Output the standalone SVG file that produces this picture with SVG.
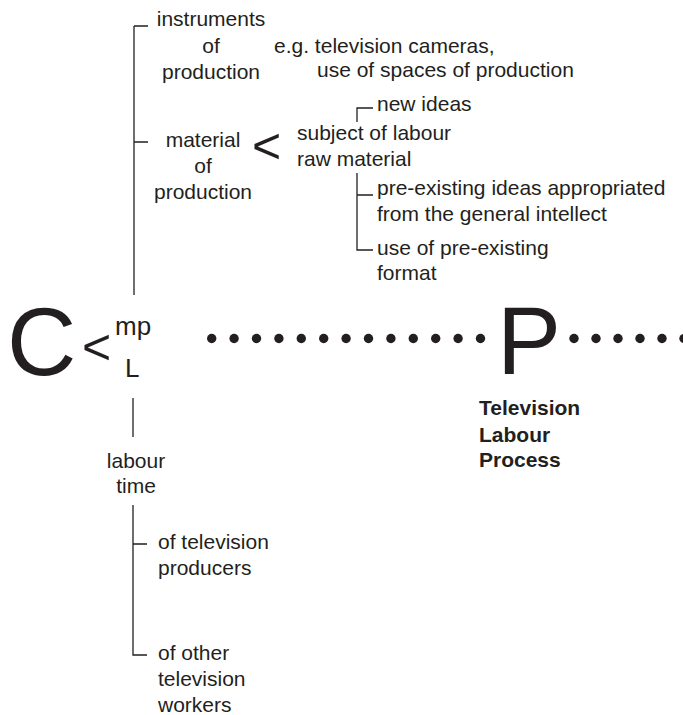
<svg xmlns="http://www.w3.org/2000/svg" width="683" height="715" viewBox="0 0 683 715">
<style>
text{font-family:"Liberation Sans",Arial,Helvetica,sans-serif;font-size:21px;fill:#231f20}
.c{text-anchor:middle}
.b{font-weight:bold}
.big{font-size:96px}
.ln{stroke:#231f20;stroke-width:1.3;fill:none}
.dot{fill:#231f20}
</style>
<rect width="683" height="715" fill="#fff"/>
<g id="connectors">
<path class="ln" d="M134,26H148M134,26V295M134,142H148"/>
<path class="ln" d="M357,122V108H373"/>
<path class="ln" d="M357,173V250H373M357,195H373"/>
<path class="ln" d="M133,398V437"/>
<path class="ln" d="M133,505V655H147M133,544H147"/>
</g>
<g id="dots">
<circle class="dot" cx="211.7" cy="338.5" r="4.7"/>
<circle class="dot" cx="234.1" cy="338.5" r="4.7"/>
<circle class="dot" cx="256.5" cy="338.5" r="4.7"/>
<circle class="dot" cx="278.9" cy="338.5" r="4.7"/>
<circle class="dot" cx="301.3" cy="338.5" r="4.7"/>
<circle class="dot" cx="323.7" cy="338.5" r="4.7"/>
<circle class="dot" cx="346.1" cy="338.5" r="4.7"/>
<circle class="dot" cx="368.5" cy="338.5" r="4.7"/>
<circle class="dot" cx="390.9" cy="338.5" r="4.7"/>
<circle class="dot" cx="413.3" cy="338.5" r="4.7"/>
<circle class="dot" cx="435.7" cy="338.5" r="4.7"/>
<circle class="dot" cx="458.1" cy="338.5" r="4.7"/>
<circle class="dot" cx="480.5" cy="338.5" r="4.7"/>
<circle class="dot" cx="574" cy="338.5" r="4.7"/>
<circle class="dot" cx="596" cy="338.5" r="4.7"/>
<circle class="dot" cx="618" cy="338.5" r="4.7"/>
<circle class="dot" cx="640" cy="338.5" r="4.7"/>
<circle class="dot" cx="662" cy="338.5" r="4.7"/>
<circle class="dot" cx="684" cy="338.5" r="4.7"/>
</g>
<g id="node-C">
<text class="big" x="7" y="375">C</text>
<text x="82" y="364" style="font-size:50px">&lt;</text>
<text x="115" y="335" style="font-size:26px">mp</text>
<text x="125" y="377" style="font-size:26px">L</text>
</g>
<g id="node-P">
<text class="big" x="497" y="374">P</text>
</g>
<g id="node-tlp">
<text class="b" x="479" y="415">Television</text>
<text class="b" x="479" y="442">Labour</text>
<text class="b" x="479" y="467">Process</text>
</g>
<g id="node-instruments">
<text class="c" x="211" y="26">instruments</text>
<text class="c" x="211" y="53">of</text>
<text class="c" x="211" y="79">production</text>
</g>
<g id="node-eg">
<text x="274" y="53">e.g. television cameras,</text>
<text x="317" y="77">use of spaces of production</text>
</g>
<g id="node-material">
<text class="c" x="203" y="147">material</text>
<text class="c" x="203" y="173">of</text>
<text class="c" x="203" y="199">production</text>
<text x="252" y="163" style="font-size:50px">&lt;</text>
</g>
<g id="node-subject">
<text x="377" y="111">new ideas</text>
<text x="297" y="140">subject of labour</text>
<text x="297" y="166">raw material</text>
</g>
<g id="node-preexisting">
<text x="377" y="195">pre-existing ideas appropriated</text>
<text x="377" y="221">from the general intellect</text>
<text x="377" y="255">use of pre-existing</text>
<text x="377" y="280">format</text>
</g>
<g id="node-labourtime">
<text class="c" x="136" y="468">labour</text>
<text class="c" x="136" y="493">time</text>
</g>
<g id="node-producers">
<text x="158" y="549">of television</text>
<text x="158" y="575">producers</text>
</g>
<g id="node-workers">
<text x="158" y="660">of other</text>
<text x="158" y="686">television</text>
<text x="158" y="712">workers</text>
</g>
</svg>
